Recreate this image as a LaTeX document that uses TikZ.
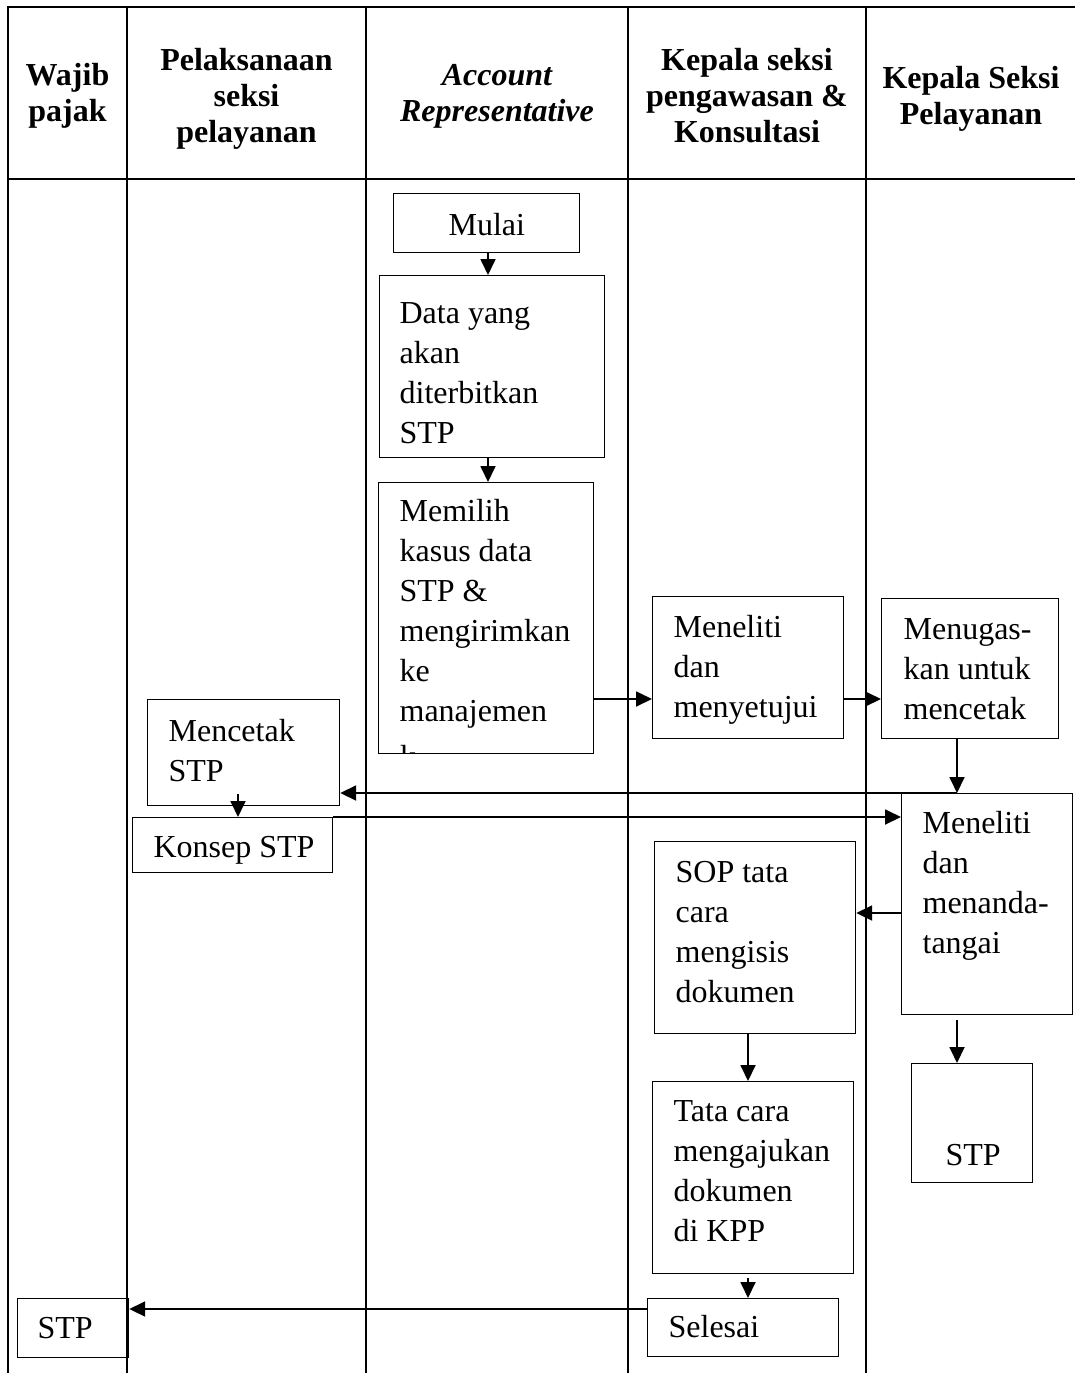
\documentclass[tikz,border=0pt]{standalone}
\usepackage{fontspec}
\setmainfont{Liberation Serif}
\usetikzlibrary{arrows.meta}
\newcommand\mybody{\fontsize{32}{40}\selectfont}
\newcommand\myhead{\fontsize{32}{36}\selectfont\bfseries}
\newcommand\bx[5]{\parbox[c][#2pt][t]{#1pt}{\leftskip=#3pt\rule{0pt}{#4pt}#5}}
\newcommand\hd[2]{\parbox[t]{#1pt}{\centering\rule{0pt}{30pt}#2}}
\begin{document}
\begin{tikzpicture}[x=1pt,y=-1pt,
  box/.style={draw, line width=1.2pt, inner sep=0pt, anchor=north west, font=\mybody},
  hdr/.style={inner sep=0pt, anchor=north, font=\myhead},
  arr/.style={-{Triangle[length=16pt,width=15pt]}, line width=1.8pt},
  tbl/.style={line width=2.2pt}]
\useasboundingbox (0,0) rectangle (1075,1373);
% swimlane table
\draw[tbl] (7,7) -- (1075,7);
\draw[tbl] (7,179) -- (1075,179);
\foreach \xx in {8,127,366,628,866} \draw[tbl] (\xx,6) -- (\xx,1373);
% headers
\node[hdr] (h1) at (67.5,55) {\hd{112}{Wajib\\pajak}};
\node[hdr] (h2) at (246.5,40) {\hd{232}{Pelaksanaan\\seksi\\pelayanan}};
\node[hdr] (h3) at (497,55) {\hd{255}{\itshape Account\\Representative}};
\node[hdr] (h4) at (747,40) {\hd{232}{Kepala seksi\\pengawasan \&\\Konsultasi}};
\node[hdr] (h5) at (971,58) {\hd{200}{Kepala Seksi\\Pelayanan}};
% boxes
\node[box] (mulai) at (393,193) {\bx{186}{59}{55}{42}{Mulai}};
\node[box] (data) at (379,275) {\bx{225}{182}{20}{48}{Data yang\\akan\\diterbitkan\\STP}};
\node[box, path picture={\node[anchor=base west, inner sep=0pt, font=\mybody] (memk) at ([xshift=21pt,yshift=-285pt]path picture bounding box.north west) {k};}] (memilih) at (378,482) {\bx{215}{271}{21}{39}{Memilih\\kasus data\\STP \&\\mengirimkan\\ke\\manajemen}};
\node[box] (meneliti1) at (652,596) {\bx{191}{142}{21}{41}{Meneliti\\dan\\menyetujui}};
\node[box] (menugas) at (881,598) {\bx{177}{140}{22}{41}{Menugas-\\kan untuk\\mencetak}};
\node[box] (mencetak) at (147,699) {\bx{192}{106}{21}{42}{Mencetak\\STP}};
\node[box] (konsep) at (132,817) {\bx{200}{55}{21}{40}{Konsep STP}};
\node[box] (meneliti2) at (901,793) {\bx{171}{221}{21}{40}{Meneliti\\dan\\menanda-\\tangai}};
\node[box] (sop) at (654,841) {\bx{201}{192}{21}{41}{SOP tata\\cara\\mengisis\\dokumen}};
\node[box] (stpr) at (911,1063) {\bx{121}{119}{34}{102}{STP}};
\node[box] (tata) at (652,1081) {\bx{201}{192}{21}{40}{Tata cara\\mengajukan\\dokumen\\di KPP}};
\node[box] (selesai) at (647,1298) {\bx{191}{58}{21}{39}{Selesai}};
\node[box] (stpl) at (17,1298) {\bx{111}{59}{20}{40}{STP}};
% free ends
\coordinate (m1) at (238,794);
\coordinate (n2) at (957,1020);
\coordinate (t1) at (748,1278);
% connectors
\draw[arr] (mulai.south -| 488,0) -- (data.north -| 488,0);
\draw[arr] (data.south -| 488,0) -- (memilih.north -| 488,0);
\draw[arr] (memilih.east |- 0,699) -- (meneliti1.west |- 0,699);
\draw[arr] (meneliti1.east |- 0,699) -- (menugas.west |- 0,699);
\draw[arr] (menugas.south -| 957,0) -- (meneliti2.north -| 957,0);
\draw[arr] (meneliti2.north -| 957,0) -- (mencetak.east |- 0,793);
\draw[arr] (m1) -- (konsep.north -| m1);
\draw[arr] (konsep.north east) -- (meneliti2.west |- konsep.north east);
\draw[arr] (meneliti2.west |- 0,913) -- (sop.east |- 0,913);
\draw[arr] (n2) -- (stpr.north -| n2);
\draw[arr] (sop.south -| 748,0) -- (tata.north -| 748,0);
\draw[arr] (t1) -- (selesai.north -| t1);
\draw[arr] (selesai.west |- 0,1309) -- (stpl.east |- 0,1309);
\end{tikzpicture}
\end{document}
